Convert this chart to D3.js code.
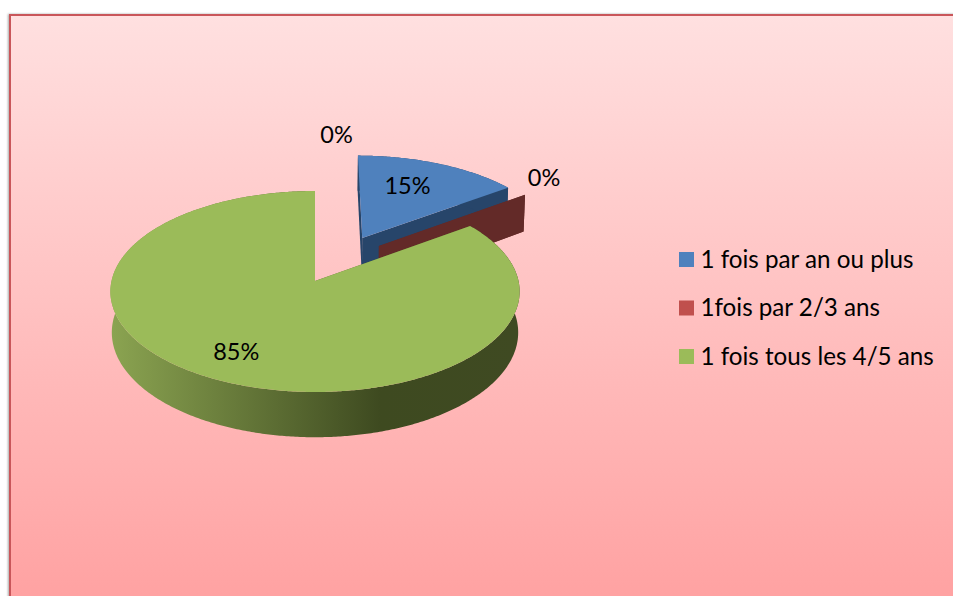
<!DOCTYPE html>
<html>
<head>
<meta charset="utf-8">
<style>
  html, body { margin: 0; padding: 0; background: #fff; overflow: hidden; }
  text { font-family: Lato, "Open Sans", sans-serif; fill: #000; }
</style>
<script src="https://cdn.jsdelivr.net/npm/d3@7"></script>
</head>
<body>
<svg id="graph"></svg>
<script>
// first slice is an empty point that has a label but no legend entry
const categories = ["", "1 fois par an ou plus", "1fois par 2/3 ans", "1 fois tous les 4/5 ans"];
const values = [0, 15, 0, 85];
const topColors = ["#4f81bd", "#4f81bd", "#c0504d", "#9bbb59"];
const sideColors = ["#27456a", "#27456a", "#632a28", "url(#greenSide)"];

// pulled out slices and label spots, in the unit plane of the pie
const explode = [[0, 0], [0.243, 0.453], [0.326, 0.366], [0, 0]];
const labelSpots = [[0.125, 1.735], [0.505, 1.062], [1.262, 1.162], [-0.36, -0.665]];

const width = 953;
const height = 596;
const center = { x: 315, y: 281 };
const persp = { k: 0.1045, a: 99.4, b: 203.5, depth: 40.5, shrink: 0.993 };

const svg = d3.select("#graph").attr("width", width).attr("height", height)
  .style("display", "block");
const defs = svg.append("defs");

defs.append("linearGradient").attr("id", "bg")
  .attr("x1", 0).attr("y1", 0).attr("x2", 0).attr("y2", 1)
  .call((g) => {
    g.append("stop").attr("offset", 0).attr("stop-color", "#ffe0e0");
    g.append("stop").attr("offset", 1).attr("stop-color", "#ff9e9e");
  });

defs.append("linearGradient").attr("id", "greenSide")
  .attr("gradientUnits", "userSpaceOnUse")
  .attr("x1", 110).attr("y1", 0).attr("x2", 519).attr("y2", 0)
  .call((g) => {
    g.append("stop").attr("offset", 0).attr("stop-color", "#8ba451");
    g.append("stop").attr("offset", 0.66).attr("stop-color", "#3e4a20");
    g.append("stop").attr("offset", 1).attr("stop-color", "#3f4a22");
  });

defs.append("filter").attr("id", "panelShadow")
  .attr("x", "-2%").attr("y", "-2%").attr("width", "104%").attr("height", "104%")
  .append("feDropShadow")
  .attr("dx", -1).attr("dy", 0).attr("stdDeviation", 1.2)
  .attr("flood-color", "#000").attr("flood-opacity", 0.35);

svg.append("rect")
  .attr("x", 10).attr("y", 15).attr("width", 980).attr("height", 620)
  .attr("fill", "url(#bg)").attr("stroke", "#c9575a").attr("stroke-width", 2)
  .attr("filter", "url(#panelShadow)");

// perspective: top of the pie
function topPoint(X, Y) {
  const w = 1 + persp.k * Y;
  return [center.x + (persp.b * X) / w, center.y - (persp.a * Y) / w];
}
// same point on the bottom face
function basePoint(X, Y) {
  const w = 1 + persp.k * Y;
  const p = topPoint(X, Y);
  return [center.x + (p[0] - center.x) * persp.shrink, p[1] + persp.depth / w];
}

const pie = d3.pie().sort(null).value((d) => d)(values);
const line = d3.line();

const arcAngles = (d) => {
  const n = Math.max(2, Math.ceil((d.endAngle - d.startAngle) / 0.01));
  return d3.range(n + 1).map((i) => d.startAngle + ((d.endAngle - d.startAngle) * i) / n);
};
const rim = (d, i, fn) => arcAngles(d).map((a) =>
  fn(explode[i][0] + Math.sin(a), explode[i][1] + Math.cos(a)));

const slices = svg.append("g");
pie.forEach((d, i) => {
  if (d.value === 0 && i === 0) return;
  const g = slices.append("g");
  const ex = explode[i];

  // walls along both straight edges
  [d.startAngle, d.endAngle].forEach((a) => {
    const X = ex[0] + Math.sin(a);
    const Y = ex[1] + Math.cos(a);
    g.append("path").attr("fill", i === 3 ? "#5a6c30" : sideColors[i])
      .attr("d", line([
        topPoint(ex[0], ex[1]),
        topPoint(X, Y),
        basePoint(X, Y),
        basePoint(ex[0], ex[1]),
      ]) + "Z");
  });

  if (d.value > 0) {
    // outer wall
    g.append("path").attr("fill", sideColors[i])
      .attr("d", line(rim(d, i, topPoint).concat(rim(d, i, basePoint).reverse())) + "Z");
    // top face
    g.append("path").attr("fill", topColors[i])
      .attr("d", line([topPoint(ex[0], ex[1])].concat(rim(d, i, topPoint))) + "Z");
  }
});

// data labels
svg.append("g").selectAll("text").data(values).join("text")
  .attr("x", (d, i) => topPoint(labelSpots[i][0], labelSpots[i][1])[0])
  .attr("y", (d, i) => topPoint(labelSpots[i][0], labelSpots[i][1])[1] - 1)
  .attr("text-anchor", "middle").attr("dominant-baseline", "central")
  .attr("font-size", 23.5)
  .text((d) => d + "%");

// legend
const legendItems = categories.map((c, i) => ({ name: c, color: topColors[i] })).filter((d) => d.name);
const legendY = d3.scalePoint().domain(legendItems.map((d) => d.name)).range([259.5, 356.5]);
const legend = svg.append("g").selectAll("g").data(legendItems).join("g")
  .attr("transform", (d) => `translate(679,${legendY(d.name)})`);
legend.append("rect").attr("y", -7.5).attr("width", 15).attr("height", 15).attr("fill", (d) => d.color);
legend.append("text").attr("x", 21.5).attr("y", -1.5).attr("dominant-baseline", "central")
  .attr("font-size", 24.2).text((d) => d.name);
</script>
</body>
</html>
